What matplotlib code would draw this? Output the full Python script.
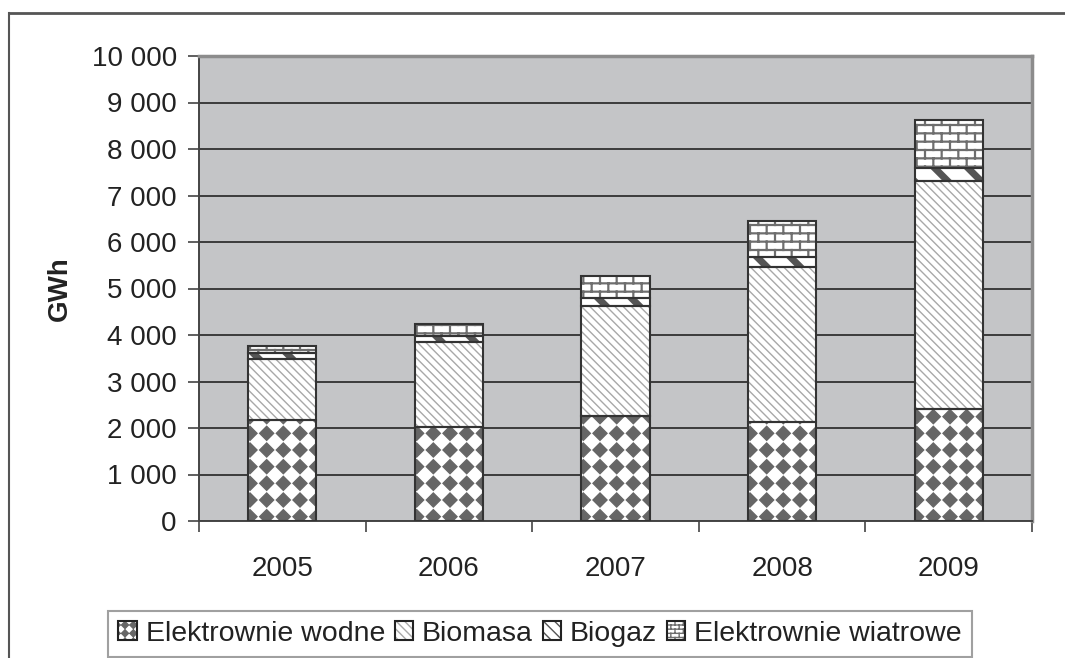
import numpy as np
import matplotlib
matplotlib.use('Agg')
import matplotlib.pyplot as plt
import matplotlib.hatch as mhatch
from matplotlib.path import Path
from matplotlib.lines import Line2D
from matplotlib.ticker import FuncFormatter

plt.rcParams['font.family'] = ['Liberation Sans', 'DejaVu Sans']

years = ['2005', '2006', '2007', '2008', '2009']
wodne = [2180, 2030, 2250, 2120, 2400]
biomasa = [1310, 1830, 2370, 3340, 4920]
biogaz = [130, 120, 170, 220, 280]
wiatrowe = [140, 260, 480, 780, 1020]
labels = ['Elektrownie wodne', 'Biomasa', 'Biogaz', 'Elektrownie wiatrowe']


# wzór "diamenty" (jak w Excelu) zamiast małych kropek '.'
class Diamonds(mhatch.HatchPatternBase):
    size = 0.42

    def __init__(self, hatch, density):
        self.n = hatch.count('.') * density
        self.num_vertices = (self.n + 1) ** 2 * 5 if self.n else 0

    def set_vertices_and_codes(self, vertices, codes):
        o = 1.0 / self.n
        d = Path.unit_regular_polygon(4)
        shape = d.vertices * o * self.size
        vs, cs = [], []
        for i in range(self.n + 1):
            for j in range(self.n + 1):
                vs.append(shape + [i * o, j * o])
                cs.append(d.codes)
        np.concatenate(vs, out=vertices)
        np.concatenate(cs, out=codes)


# wzór "cegły" zamiast gwiazdek '*'
class Bricks(mhatch.HatchPatternBase):
    def __init__(self, hatch, density):
        self.rows = hatch.count('*') * density * 2
        self.cols = self.rows // 2
        self.num_vertices = 0
        if self.rows:
            self.num_vertices = (self.rows + 1) * 2 + self.rows * (self.cols + 1) * 2

    def set_vertices_and_codes(self, vertices, codes):
        h = 1.0 / self.rows
        w = 1.0 / self.cols
        segs = []
        for r in range(self.rows + 1):
            segs.append([[0, r * h], [1, r * h]])
        for r in range(self.rows):
            shift = 0 if r % 2 == 0 else w / 2
            for c in range(self.cols + 1):
                x = c * w + shift
                segs.append([[x, r * h], [x, (r + 1) * h]])
        vertices[:] = np.array(segs).reshape(-1, 2)
        codes[0::2] = Path.MOVETO
        codes[1::2] = Path.LINETO


mhatch._hatch_types = [mhatch.HorizontalHatch, mhatch.VerticalHatch,
                       mhatch.NorthEastHatch, mhatch.SouthEastHatch,
                       mhatch.SmallCircles, mhatch.LargeCircles,
                       Diamonds, Bricks]

# (wzór słupka, wzór w legendzie, kolor, grubość linii wzoru)
styles = [
    ('.', '..', '#666666', 1.0),
    ('\\\\\\\\', '\\\\\\\\', '#a8a8a8', 1.0),
    ('\\', '\\\\\\', '#555555', 5.0),
    ('*', '**', '#6e6e6e', 1.6),
]

fig = plt.figure(figsize=(10.65, 6.58), dpi=100)
ax = fig.add_axes([199 / 1065, 1 - 521 / 658, 833 / 1065, 465 / 658])
ax.set_facecolor('#c4c5c7')

x = np.arange(len(years))
width = 0.41
bottom = np.zeros(len(years))
handles = []
for vals, (hatch, lhatch, hcol, hlw), lab in zip([wodne, biomasa, biogaz, wiatrowe], styles, labels):
    bars = ax.bar(x, vals, width, bottom=bottom, color='white', edgecolor=hcol,
                  hatch=hatch, linewidth=0, zorder=3)
    for p in bars:
        if hasattr(p, 'set_hatch_linewidth'):
            p.set_hatch_linewidth(hlw)
    ax.bar(x, vals, width, bottom=bottom, fill=False, edgecolor='#333333',
           linewidth=1.5, zorder=4)
    h = plt.Rectangle((0, 0), 1, 1, facecolor='white', edgecolor=hcol, hatch=lhatch,
                      linewidth=0)
    if hasattr(h, 'set_hatch_linewidth'):
        h.set_hatch_linewidth(min(hlw, 2.5))
    box = plt.Rectangle((0, 0), 1, 1, fill=False, edgecolor='#222222', linewidth=1.5)
    handles.append((h, box))
    bottom += np.array(vals)

ax.set_ylim(0, 10000)
ax.set_yticks(np.arange(0, 10001, 1000))
ax.yaxis.set_major_formatter(FuncFormatter(lambda v, pos: f'{int(v):,}'.replace(',', ' ')))
ax.grid(axis='y', color='#3c3c3c', linewidth=1.4, zorder=1)
ax.set_axisbelow(True)

ax.set_xlim(-0.5, 4.5)
ax.set_xticks(np.arange(-0.5, 4.6, 1))
ax.set_xticklabels([])
ax.set_xticks(x, minor=True)
ax.set_xticklabels(years, minor=True)
ax.tick_params(axis='x', which='major', direction='out', length=8, width=1.2, color='#444444')
ax.tick_params(axis='x', which='minor', length=0, pad=25, labelsize=20, labelcolor='#222222')
ax.tick_params(axis='y', direction='out', length=8, width=1.2, color='#444444',
               pad=8, labelsize=20, labelcolor='#222222')

for s in ['left', 'bottom']:
    ax.spines[s].set_color('#444444')
    ax.spines[s].set_linewidth(1.4)
for s in ['top', 'right']:
    ax.spines[s].set_color('#8c8c8c')
    ax.spines[s].set_linewidth(2.5)

fig.text(60 / 1065, 1 - 289 / 658, 'GWh', rotation=90, fontsize=20, fontweight='bold',
         color='#222222', ha='center', va='center')

# ramka wykresu
fig.add_artist(Line2D([9 / 1065, 9 / 1065], [0, 1 - 13 / 658], color='#555555', linewidth=1.5))
fig.add_artist(Line2D([9 / 1065, 1], [1 - 13 / 658, 1 - 13 / 658], color='#555555', linewidth=2))

leg = fig.legend(handles, labels, loc='upper center', bbox_to_anchor=(540 / 1065, 1 - 611 / 658),
                 ncol=4, fontsize=20.5, frameon=True, fancybox=False, handlelength=0.65,
                 handleheight=0.65, handletextpad=0.3, columnspacing=0.35, borderpad=0.35,
                 borderaxespad=0)
leg.get_frame().set_edgecolor('#888888')
leg.get_frame().set_linewidth(1.5)
for t in leg.get_texts():
    t.set_color('#222222')

fig.savefig('out.png', dpi=100)
